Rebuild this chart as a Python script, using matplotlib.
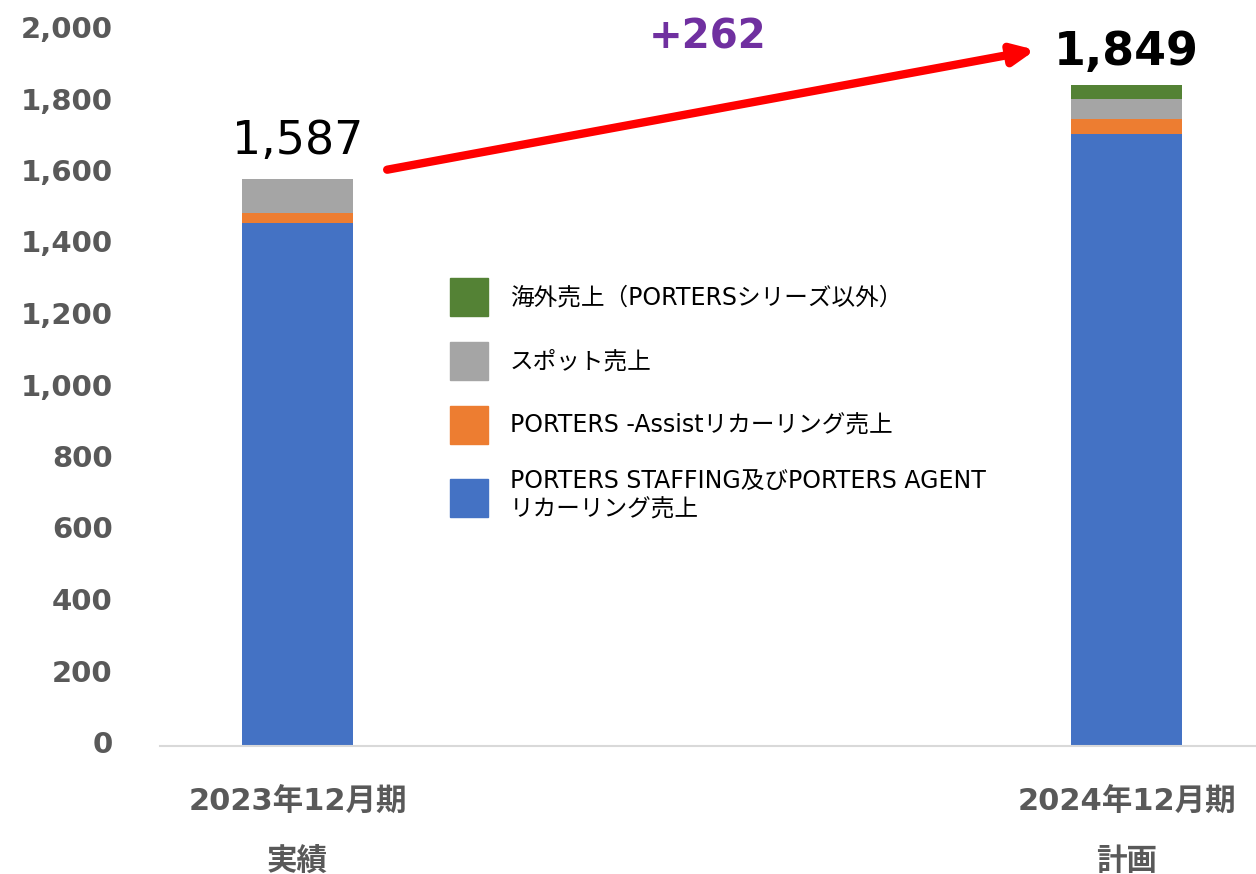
import matplotlib
matplotlib.use("Agg")
import matplotlib.pyplot as plt
from matplotlib.patches import Patch
from matplotlib.transforms import ScaledTranslation

plt.rcParams['font.family'] = ['DejaVu Sans', 'Noto Sans CJK JP']

periods = ["2023年12月期\n実績", "2024年12月期\n計画"]
series = [
    "PORTERS STAFFING及びPORTERS AGENT\nリカーリング売上",
    "PORTERS -Assistリカーリング売上",
    "スポット売上",
    "海外売上（PORTERSシリーズ以外）",
]
recurring = [1462, 1713]
assist = [30, 41]
spot = [95, 57]
overseas = [0, 38]
totals = [1587, 1849]
diff_label = "+262"

colors = ['#4472C4', '#ED7D31', '#A5A5A5', '#548235']

fig = plt.figure(figsize=(12.56, 8.74), dpi=100)
ax = fig.add_axes([160 / 1256, 1 - 746 / 874, 1096 / 1256, 715 / 874])

x = [0, 1]
bottom = [0, 0]
for vals, name, c in zip([recurring, assist, spot, overseas], series, colors):
    ax.bar(x, vals, bottom=bottom, width=0.134, color=c, label=name)
    bottom = [b + v for b, v in zip(bottom, vals)]

ax.set_xlim(-0.166, 1.156)
ax.set_ylim(0, 2000)
ax.set_yticks(range(0, 2001, 200))
ax.set_yticklabels([f"{v:,}" for v in range(0, 2001, 200)])
ax.set_xticks(x)
ax.set_xticklabels(periods, linespacing=2.35)
ax.tick_params(axis='y', length=0, pad=34, labelsize=21, labelcolor='#595959')
ax.tick_params(axis='x', length=0, pad=29.5, labelsize=22, labelcolor='#595959')
shift = ScaledTranslation(0, 4 / 100, fig.dpi_scale_trans)
for lab in ax.get_yticklabels():
    lab.set_fontweight('bold')
    lab.set_transform(lab.get_transform() + shift)
for lab in ax.get_xticklabels():
    lab.set_fontweight('bold')

for s in ['top', 'right', 'left']:
    ax.spines[s].set_visible(False)
ax.spines['bottom'].set_color('#D9D9D9')
ax.spines['bottom'].set_linewidth(1.5)

# total labels
ax.text(x[0], totals[0] + 69, f"{totals[0]:,}", ha='center', va='baseline', fontsize=33, color='black')
ax.text(x[1], totals[1] + 56, f"{totals[1]:,}", ha='center', va='baseline', fontsize=33,
        fontweight='bold', color='black', clip_on=False)

# growth arrow
ax.annotate("", xy=(0.89, 1947), xytext=(0.108, 1612),
            arrowprops=dict(arrowstyle='-|>,head_length=1.3,head_width=0.6', color='#FF0000', lw=6,
                            shrinkA=0, shrinkB=0),
            annotation_clip=False)
ax.text(0.495, 1950, diff_label, ha='center', va='baseline', fontsize=29, fontweight='bold',
        color='#7030A0', clip_on=False)

handles = [Patch(color=c, label=n) for c, n in zip(colors, series)][::-1]
fig.legend(handles=handles, loc='upper left', bbox_to_anchor=(450 / 1256, 1 - 278 / 874),
           frameon=False, fontsize=17, handlelength=1.61, handleheight=2.1,
           labelspacing=1.1, handletextpad=0.93, borderpad=0, borderaxespad=0)

fig.savefig("out.png", dpi=100)
